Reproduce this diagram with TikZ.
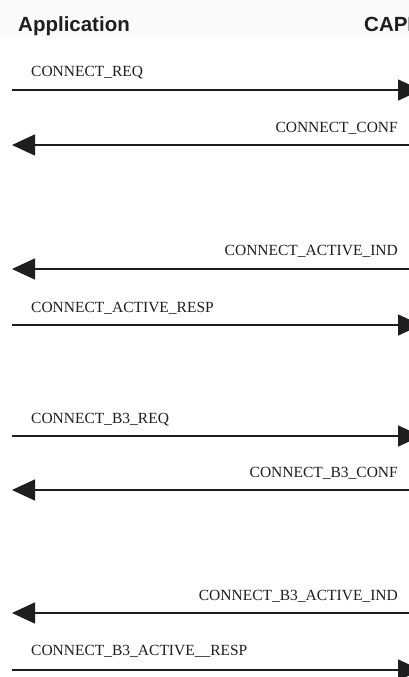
\documentclass[tikz,border=0pt]{standalone}
\usepackage{fontspec}
\setmainfont{Liberation Serif}
\newfontfamily\headfont{Liberation Sans}
\usetikzlibrary{arrows.meta}
\definecolor{ink}{HTML}{1E1E1E}
\tikzset{
  msg/.style={draw=ink, line width=1.5pt, -{Triangle[length=23pt,width=21pt]}},
  party/.style={font=\headfont\bfseries\fontsize{20.5}{22}\selectfont, text=ink, inner sep=0pt, anchor=base west},
  lbl/.style={font=\fontsize{15.5}{17}\selectfont, text=ink, inner sep=0pt, anchor=base west},
  rlbl/.style={font=\fontsize{15.5}{17}\selectfont, text=ink, inner sep=0pt, anchor=base east},
}
\begin{document}
\begin{tikzpicture}[x=1pt,y=-1pt]
\useasboundingbox (0,0) rectangle (409,677);
\clip (0,0) rectangle (409,677);
\fill[white] (0,0) rectangle (409,677);
\fill[black!2] (0,0) rectangle (409,37);

% participants
\node[party] (app) at (18,31.5) {Application};
\node[party] (capi) at (364,31.5) {CAPI};

% message end points: application side and CAPI side
\foreach \i/\y in {1/90,2/145,3/269,4/325,5/436,6/490,7/613,8/670} {
  \coordinate (a\i) at (12,\y);
  \coordinate (c\i) at (421,\y);
}

% messages
\draw[msg] (a1) -- (c1);
\draw[msg] (c2) -- (a2);
\draw[msg] (c3) -- (a3);
\draw[msg] (a4) -- (c4);
\draw[msg] (a5) -- (c5);
\draw[msg] (c6) -- (a6);
\draw[msg] (c7) -- (a7);
\draw[msg] (a8) -- (c8);

% labels
\node[lbl]  (l1) at (31,77)   {CONNECT\_REQ};
\node[rlbl] (l2) at (398,132) {CONNECT\_CONF};
\node[rlbl] (l3) at (398,255) {CONNECT\_ACTIVE\_IND};
\node[lbl]  (l4) at (31,312)  {CONNECT\_ACTIVE\_RESP};
\node[lbl]  (l5) at (31,423)  {CONNECT\_B3\_REQ};
\node[rlbl] (l6) at (398,477) {CONNECT\_B3\_CONF};
\node[rlbl] (l7) at (398,600) {CONNECT\_B3\_ACTIVE\_IND};
\node[lbl]  (l8) at (31,655)  {CONNECT\_B3\_ACTIVE\_\_RESP};
\end{tikzpicture}
\end{document}
